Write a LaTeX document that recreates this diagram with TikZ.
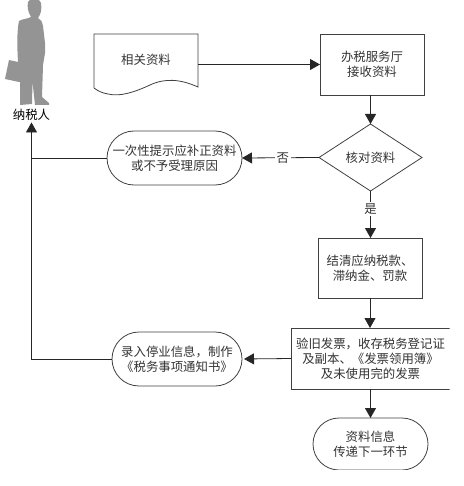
\documentclass[tikz,border=0pt]{standalone}
\usepackage{fontspec}
\newfontfamily\cjkfont{Noto Sans CJK SC}
\usetikzlibrary{positioning,shapes.geometric,shapes.misc,arrows.meta}

\begin{document}
\begin{tikzpicture}[x=1pt,y=-1pt]
            \tikzset{
                task/.style={
                    draw=black!75,
                    line width=0.8pt,
                    outer sep=0pt,
                    align=center,
                    text=black!80,
                    font=\cjkfont\fontsize{12.4}{15}\selectfont
                }
            }
            \tikzset{
                terminal/.style={
                    task,
                    rounded rectangle,
                    inner sep=0pt
                }
            }
            \tikzset{
                check/.style={
                    task,
                    diamond,
                    inner sep=0pt,
                    aspect=1.54
                }
            }
            \tikzset{
                flow/.style={
                    black!85,
                    line width=0.8pt,
                    -{Triangle[length=10pt,width=11pt]}
                }
            }
            \tikzset{
                note/.style={
                    fill=white,
                    inner sep=1.5pt,
                    text=black!80,
                    font=\cjkfont\fontsize{12.4}{15}\selectfont
                }
            }

            \useasboundingbox (0,0) rectangle (463,486);
            \clip (0,0) rectangle (449.5,469.5);

            \fill[black!42] (28,2) .. controls (30,-3) and (40,-3) .. (41,3)
                .. controls (42,9) and (41,14) .. (38,18)
                .. controls (41,20) and (42,21) .. (43,26)
                -- (45,43) -- (45,53) -- (43,65) -- (42,97) -- (49,103) -- (49,105)
                -- (35,105) -- (32.5,82) -- (32,104) -- (20,105) -- (20,82)
                -- (19,82) -- (5,79) -- (9,60) -- (18,62)
                .. controls (17,45) and (17,30) .. (19,21)
                .. controls (22,19) and (27,19) .. (31,17)
                .. controls (28,12) and (27,7) .. (28,2) -- cycle;

            \node[note,fill=none,text=black] (payer) at (31.5,115) {纳税人};

            \node[minimum width=104pt,minimum height=61pt,inner sep=0pt,outer sep=0pt] (doc) at (146,64.5) {};
            \node[task,draw=none,yshift=4.5pt] (doctext) at (doc.center) {相关资料};
            \draw[black!75,line width=0.8pt] (doc.north west) -- (doc.north east) -- (198,87)
                .. controls (180,79) and (165,78) .. (150,85)
                .. controls (135,92) and (120,97) .. (108,94)
                .. controls (102,93) and (98,91) .. (94,88) -- cycle;

            \node[task,minimum width=104pt,minimum height=61pt] (receive) at (372,64.5) {办税服务厅\\接收资料};
            \node[check,minimum width=103pt,minimum height=67pt] (verify) at (370.5,157.5) {核对资料};
            \node[terminal,minimum width=135pt,minimum height=54pt] (notify) at (174.5,158) {一次性提示应补正资料\\或不予受理原因};
            \node[task,minimum width=104pt,minimum height=60pt] (settle) at (370,268) {结清应纳税款、\\滞纳金、罚款};
            \node[task,minimum width=159pt,minimum height=61pt] (invoice) at (370.5,358.5) {验旧发票，收存税务登记证\\及副本、《发票领用簿》\\及未使用完的发票};
            \node[terminal,minimum width=130pt,minimum height=54pt] (record) at (177,359) {录入停业信息，制作\\《税务事项通知书》};
            \node[terminal,minimum width=115pt,minimum height=52pt] (transfer) at (370.5,444) {资料信息\\传递下一环节};

            \draw[flow] (doc.east) -- (receive.west);
            \draw[flow] (receive.south -| verify.north) -- (verify.north);
            \draw[flow] (verify.west) -- node[note,pos=0.47] (no) {否} (notify.east);
            \draw[flow] (verify.south) -- node[note,pos=0.38] (yes) {是} (verify.south |- settle.north);
            \draw[flow] (settle.south) -- (settle.south |- invoice.north);
            \draw[flow,shorten >=2pt] (invoice.west) -- (record.east);
            \draw[flow] (invoice.south) -- (transfer.north);
            \draw[flow] (record.west) -| (payer.south);
            \draw[black!85,line width=0.8pt] (notify.west) -- (notify.west -| payer.south);
        \end{tikzpicture}
\end{document}
